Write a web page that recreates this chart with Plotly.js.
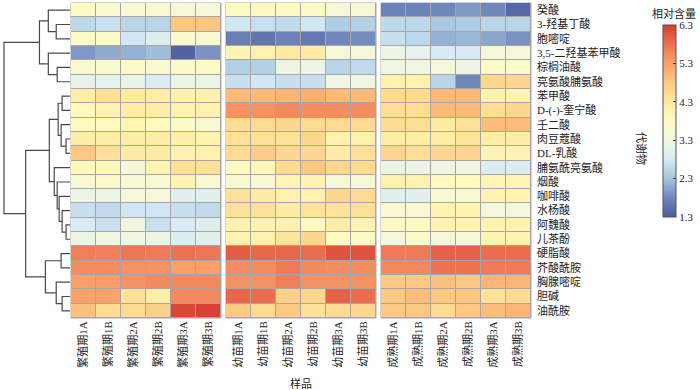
<!DOCTYPE html>
<html><head><meta charset="utf-8">
<script src="https://cdn.plot.ly/plotly-3.0.1.min.js"></script>
<style>html,body{margin:0;padding:0;background:#fff}#chart{width:700px;height:390px}</style>
</head><body><div id="chart"></div>
<script>
const metabolites = ['癸酸','3-羟基丁酸','胞嘧啶','3,5-二羟基苯甲酸','棕榈油酸','亮氨酸脯氨酸','苯甲酸','D-(-)-奎宁酸','壬二酸','肉豆蔻酸','DL-乳酸','脯氨酰亮氨酸','烟酸','咖啡酸','水杨酸','阿魏酸','儿茶酚','硬脂酸','芥酸酰胺','胸腺嘧啶','胆碱','油酰胺'];
const samplesBreed = ['繁殖期1A','繁殖期1B','繁殖期2A','繁殖期2B','繁殖期3A','繁殖期3B'];
const samplesSeed  = ['幼苗期1A','幼苗期1B','幼苗期2A','幼苗期2B','幼苗期3A','幼苗期3B'];
const samplesMature= ['成熟期1A','成熟期1B','成熟期2A','成熟期2B','成熟期3A','成熟期3B'];

const valuesBreed = [
 [3.8,3.6,3.55,3.55,3.45,3.45],
 [2.55,2.65,2.5,2.5,4.85,4.85],
 [3.75,3.75,2.75,2.95,3.65,3.55],
 [1.95,2.1,2.15,2.25,1.4,1.9],
 [3.6,3.6,3.7,3.6,3.7,3.7],
 [3.1,3.05,3.15,2.85,3.2,3.2],
 [4.2,4.45,4.3,4.2,4.1,4.1],
 [3.9,4.1,4.2,4.2,4.1,4.1],
 [3.85,3.85,4.0,3.85,3.7,3.55],
 [4.2,4.2,4.2,4.2,4.15,4.05],
 [4.85,4.45,4.25,4.25,4.1,4.1],
 [3.9,3.9,3.45,4.05,4.45,4.45],
 [3.55,3.7,3.55,3.55,4.05,3.55],
 [3.2,3.2,3.4,3.4,3.0,3.0],
 [2.65,2.6,2.75,2.75,2.65,2.6],
 [2.8,2.65,3.3,2.65,2.8,2.95],
 [3.2,3.3,3.3,3.2,2.9,3.0],
 [5.65,5.65,5.75,5.7,5.8,5.75],
 [5.5,5.5,5.45,5.45,5.3,5.3],
 [5.3,5.35,5.45,5.55,5.55,5.55],
 [5.25,5.25,4.45,4.2,5.55,5.55],
 [4.9,4.55,4.55,4.7,6.2,6.25]
];
const valuesSeed = [
 [3.8,3.85,3.8,3.75,3.5,3.5],
 [2.75,2.65,2.6,2.75,2.4,2.45],
 [1.7,1.6,1.75,1.65,1.8,1.85],
 [4.05,4.1,4.3,4.3,3.45,3.45],
 [2.45,2.45,3.2,3.2,2.5,2.6],
 [2.65,2.75,2.65,2.65,3.3,3.3],
 [5.0,5.0,5.05,5.1,5.0,5.0],
 [5.45,5.45,5.55,5.5,5.5,5.5],
 [4.55,4.55,4.6,4.55,4.55,4.55],
 [4.45,4.45,4.45,4.6,4.1,4.1],
 [4.55,4.75,4.6,4.6,4.25,4.45],
 [3.85,3.95,4.55,4.85,4.6,4.55],
 [3.55,3.55,4.0,4.05,3.5,3.5],
 [4.45,4.25,4.1,4.1,4.6,4.55],
 [4.45,4.45,4.25,4.4,4.4,4.45],
 [4.1,4.1,4.1,3.85,4.2,4.05],
 [4.1,4.1,4.4,4.6,3.8,3.75],
 [6.0,5.9,5.9,5.85,6.1,6.1],
 [5.5,5.5,5.7,5.55,5.5,5.5],
 [5.45,5.45,5.65,5.45,5.45,5.45],
 [5.9,5.85,4.7,4.6,5.95,5.85],
 [4.8,4.55,4.8,4.45,4.55,4.6]
];
const valuesMature = [
 [1.75,1.75,1.8,1.95,1.8,1.45],
 [2.55,2.55,2.35,2.4,2.5,2.5],
 [2.65,2.55,2.15,2.2,2.05,1.9],
 [3.2,3.05,2.8,2.8,3.45,3.45],
 [3.3,3.3,3.4,3.25,3.7,3.7],
 [4.1,4.1,2.5,1.8,4.6,4.6],
 [4.55,4.55,5.0,5.0,4.1,4.05],
 [4.5,4.5,5.0,5.0,4.5,4.6],
 [4.55,4.5,4.25,4.45,4.95,4.95],
 [4.2,4.2,4.2,4.4,4.2,4.2],
 [4.65,4.5,4.6,4.65,4.05,4.05],
 [3.2,3.2,3.3,3.3,2.9,2.9],
 [4.1,4.1,3.85,3.85,4.0,4.0],
 [3.0,3.0,3.55,3.55,4.05,4.05],
 [3.55,3.55,4.05,4.05,3.4,3.4],
 [3.7,3.8,4.05,4.05,4.05,4.05],
 [3.45,3.7,3.45,3.45,4.05,4.05],
 [5.7,5.7,5.95,5.95,5.85,5.85],
 [5.55,5.55,5.8,5.8,5.7,5.7],
 [4.8,4.8,4.9,4.8,5.05,5.05],
 [4.8,4.95,4.8,4.85,4.45,4.55],
 [4.8,4.85,4.55,4.85,4.95,5.05]
];
const colorTicks = [1.3,2.3,3.3,4.3,5.3,6.3];

// hierarchical clustering merges: [childA, childB, height]; leaves 0..21, nodes 22+
const merges = [
 [1,2,14],[0,22,22],[4,5,13],[3,24,22],[23,25,31],
 [6,7,8],[9,10,4],[8,28,9],[27,29,12],
 [15,16,4],[14,31,8],[13,32,11],[12,33,13],[11,34,16],
 [30,35,21],
 [17,18,9],[20,21,8],[19,38,14],[37,39,25],
 [36,40,45],[26,41,67]
];

const nLeaf = metabolites.length;
const nodeY = {}, nodeH = {};
for (let i=0;i<nLeaf;i++){nodeY[i]=i;nodeH[i]=0;}
const dx=[], dy=[];
merges.forEach((m,k)=>{
  const id=nLeaf+k, a=m[0], b=m[1], h=m[2];
  nodeY[id]=(nodeY[a]+nodeY[b])/2; nodeH[id]=h;
  dx.push(nodeH[a],h,h,nodeH[b],null);
  dy.push(nodeY[a],nodeY[a],nodeY[b],nodeY[b],null);
});

const cs = [
 [0,'#4b5a9e'],[0.1,'#6f87bb'],[0.2,'#a4c4de'],[0.3,'#d6ebf5'],[0.4,'#f1f6e2'],
 [0.5,'#fefbc2'],[0.6,'#feeaa0'],[0.7,'#fdca84'],[0.8,'#fa9f68'],[0.9,'#ec7252'],[1,'#d43d30']
];
const rowIdx = metabolites.map((_,i)=>i);
const FONT = 'Liberation Serif, Noto Sans CJK SC, serif';
const grid = '#a9a5a5';

function hm(x,z,xa,show){
  return {type:'heatmap', x:x, y:rowIdx, z:z, xaxis:xa, yaxis:'y', colorscale:cs, zmin:1.3, zmax:6.3,
    xgap:1, ygap:1, showscale:show, hoverinfo:'skip',
    colorbar: show ? {x:1.25, xanchor:'left', xpad:0, ypad:0, y:1-(25-3)/315, yanchor:'top',
      len:192, lenmode:'pixels', thickness:13, outlinewidth:1, outlinecolor:'#555',
      tickvals:colorTicks, ticktext:colorTicks.map(v=>v.toFixed(1)), ticks:'inside', ticklen:3, tickcolor:'#444',
      tickfont:{family:FONT,size:11,color:'#222'}} : undefined};
}

const traces = [
  hm(samplesBreed, valuesBreed, 'x', false),
  hm(samplesSeed, valuesSeed, 'x2', false),
  hm(samplesMature, valuesMature, 'x3', true),
  {type:'scatter', mode:'lines', x:dx, y:dy, xaxis:'x4', yaxis:'y', line:{color:'#4a4a4a',width:1.2}, hoverinfo:'skip', showlegend:false}
];

const xcommon = {tickangle:-90, ticks:'', showgrid:false, zeroline:false, showline:false,
  tickfont:{family:FONT,size:11,color:'#222'}, anchor:'y', fixedrange:true};
const W=528;
const d = px => (px-3)/W;
const py = px => 1-(px-3)/315;
const layout = {
  width:700, height:390, margin:{l:3,r:169,t:3,b:72},
  paper_bgcolor:'#fff', plot_bgcolor:'#fff', showlegend:false,
  xaxis: Object.assign({}, xcommon, {domain:[d(71),d(221)]}),
  xaxis2: Object.assign({}, xcommon, {domain:[d(226),d(376)]}),
  xaxis3: Object.assign({}, xcommon, {domain:[d(381),d(531)]}),
  xaxis4: {domain:[0,d(70)], range:[68,0], visible:false, anchor:'y', fixedrange:true},
  yaxis: {range:[nLeaf-0.5,-0.5], anchor:'x3', side:'right', tickvals:rowIdx, ticktext:metabolites,
    ticks:'', showgrid:false, zeroline:false, showline:false, ticklabelstandoff:5,
    tickfont:{family:FONT,size:11,color:'#222'}, fixedrange:true},
  shapes: ['x','x2','x3'].map(a=>({type:'rect', xref:a+' domain', yref:'y domain', x0:0,x1:1,y0:0,y1:1,
    fillcolor:grid, line:{color:grid,width:1}, layer:'below'})),
  annotations: [
    {text:'样品', xref:'paper', yref:'paper', x:d(301), y:py(383), xanchor:'center', yanchor:'middle', showarrow:false,
     font:{family:FONT,size:11,color:'#222'}},
    {text:'相对含量', xref:'paper', yref:'paper', x:d(674), y:py(13), xanchor:'center', yanchor:'middle', showarrow:false,
     font:{family:FONT,size:11,color:'#222'}},
    {text:'代谢物', xref:'paper', yref:'paper', x:d(641), y:py(148), xanchor:'center', yanchor:'middle', showarrow:false, textangle:90,
     font:{family:FONT,size:11,color:'#222'}}
  ]
};
Plotly.newPlot('chart', traces, layout, {staticPlot:true, displayModeBar:false});
</script></body></html>
